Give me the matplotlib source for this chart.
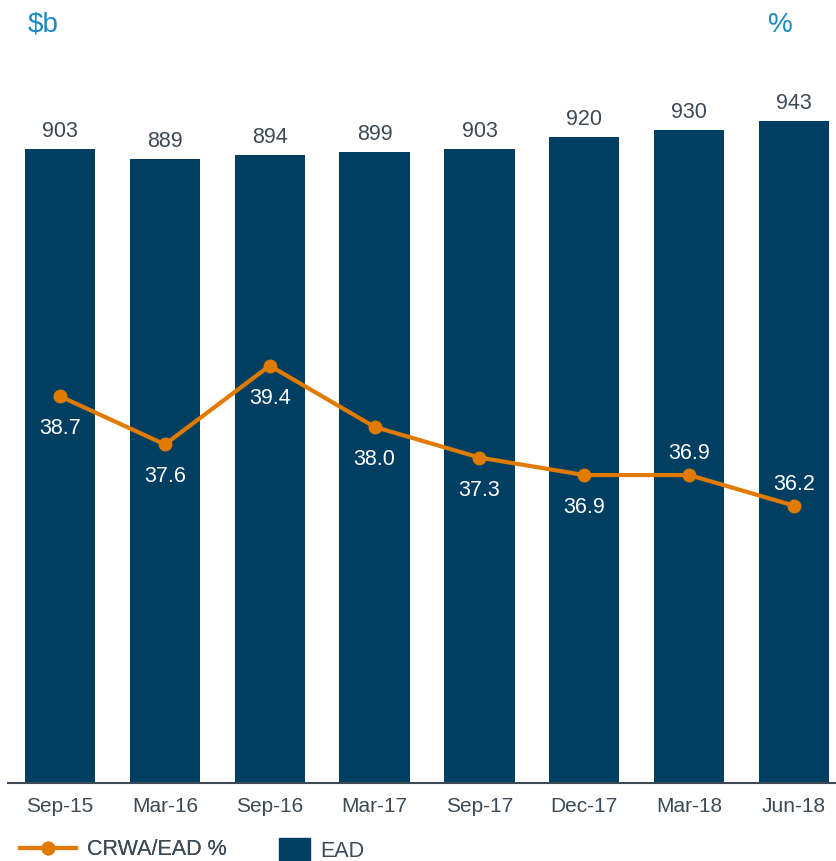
import matplotlib.pyplot as plt
from matplotlib.lines import Line2D
from matplotlib.patches import Patch

plt.rcParams['font.family'] = ['Liberation Sans', 'DejaVu Sans']

periods = ['Sep-15', 'Mar-16', 'Sep-16', 'Mar-17', 'Sep-17', 'Dec-17', 'Mar-18', 'Jun-18']
ead = [903, 889, 894, 899, 903, 920, 930, 943]
crwa_pct = [38.7, 37.6, 39.4, 38.0, 37.3, 36.9, 36.9, 36.2]
# where the % label sits relative to its point
label_above = [False, False, False, False, False, False, True, True]

navy = '#003f62'
orange = '#e07b00'
grey_txt = '#3d4a55'
blue_txt = '#1a8ac6'

fig = plt.figure(figsize=(8.36, 8.61), dpi=100)
ax = fig.add_axes([0.0096, 0.0906, 0.9904, 0.8154])
x = list(range(len(periods)))

ax.bar(x, ead, width=0.67, color=navy, zorder=1)
for xi, v in zip(x, ead):
    ax.annotate(str(v), (xi, v), xytext=(0, 5), textcoords='offset points',
                ha='center', va='bottom', fontsize=15.5, color=grey_txt)

ax.set_ylim(0, 1000)
ax.set_xlim(-0.496, 7.4)
ax.set_yticks([])
ax.set_xticks(x)
ax.set_xticklabels(periods, fontsize=15, color=grey_txt)
ax.tick_params(axis='x', length=0, pad=10)
for s in ['top', 'right', 'left']:
    ax.spines[s].set_visible(False)
ax.spines['bottom'].set_color('#3d4a55')
ax.spines['bottom'].set_linewidth(1.5)

ax2 = ax.twinx()
ax2.plot(x, crwa_pct, color=orange, lw=3, marker='o', ms=9, zorder=3)
ax2.set_ylim(29.86, 45.91)
ax2.set_yticks([])
for s in ax2.spines.values():
    s.set_visible(False)
for xi, v, up in zip(x, crwa_pct, label_above):
    off = 17.3 if up else -21.6
    ax2.annotate(f'{v:.1f}', (xi, v), xytext=(0, off), textcoords='offset points',
                 ha='center', va='center_baseline', fontsize=15.5, color='white')

fig.text(0.033, 0.971, '$b', fontsize=20, color=blue_txt, ha='left', va='center')
fig.text(0.933, 0.971, '%', fontsize=20, color=blue_txt, ha='center', va='center')

leg1 = fig.legend([Line2D([0], [0], color=orange, lw=3, marker='o', ms=9)],
                  ['CRWA/EAD %'], loc='center left', bbox_to_anchor=(0.001, 0.0128),
                  frameon=False, fontsize=15.5, labelcolor=grey_txt,
                  handlelength=2.6, handletextpad=0.5)
fig.add_artist(leg1)
fig.legend([Patch(color=navy)], ['EAD'], loc='center left',
           bbox_to_anchor=(0.311, 0.0128), frameon=False, fontsize=15.5,
           labelcolor=grey_txt, handlelength=1.4, handleheight=1.3,
           handletextpad=0.5)

fig.savefig('out.png', dpi=100)
